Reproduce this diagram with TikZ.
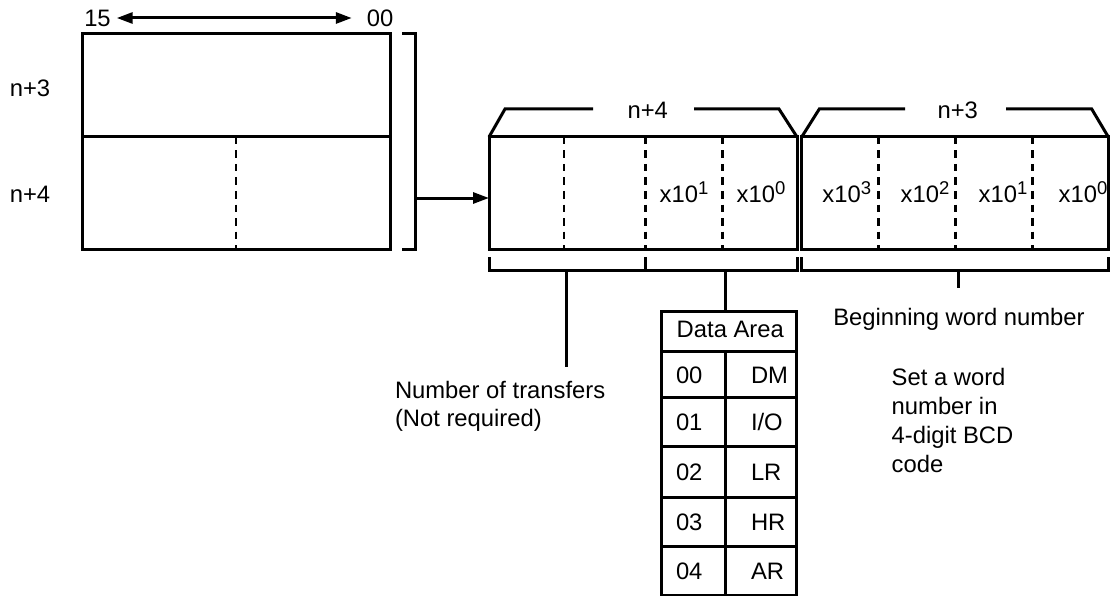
\documentclass[tikz,border=0pt]{standalone}
\usepackage{fontspec}
\setmainfont{Liberation Sans}
\usetikzlibrary{arrows.meta}
\newcommand{\pw}[1]{x10\raisebox{8.3pt}{\fontsize{18.5}{18.5}\selectfont #1}}
\begin{document}
\begin{tikzpicture}[x=1pt,y=-1pt,line width=3pt,
  every node/.style={font=\fontsize{23.8}{28}\selectfont,inner sep=0pt,outer sep=0pt},
  boxn/.style={draw,line width=3pt,minimum width=#1,minimum height=112.5pt},
  dsh/.style={line width=2.8pt,dash pattern=on 7.5pt off 6pt},
  tipr/.style={-{Triangle[length=16pt,width=11pt]}},
  tiplr/.style={{Triangle[length=16pt,width=11pt]}-{Triangle[length=16pt,width=11pt]}},
  cell/.style={anchor=base west},
  lbl/.style={anchor=base}]
\useasboundingbox (0,0) rectangle (1110,596);

% ---- left register
\node[draw,minimum width=308pt,minimum height=215pt] (lbox) at (236,141.5) {};
\draw (lbox.west |- 0,137) -- (lbox.east |- 0,137);
\draw[dsh] (236,137) -- (lbox.south -| 236,0);
\node (r3) at (30,88) {n+3};
\node (r4) at (30,194) {n+4};
\node (b15) at (97.5,18) {15};
\node (b00) at (380,18) {00};
\draw[tiplr,shorten <=6pt,shorten >=15pt] (b15.east) -- (b00.west);

% bracket
\coordinate (bt) at (402,34);
\coordinate (bb) at (402,249);
\draw (bt) -- ++(13,0) -- (415,249) -- (bb);
\coordinate (brk) at (415,198);

% ---- n+4 box
\node[boxn=308pt] (b4) at (643,193.2) {};
\draw[tipr] (brk) -- (brk -| b4.west);
\foreach \x in {564,645.5,722.5} \draw[dsh] (\x,137) -- (\x,249.5);
\draw (b4.north west) -- (505,109) -- (593,109);
\draw (694,109) -- (779,109) -- (b4.north east);
\node (t4) at (647.7,110) {n+4};
\node[lbl] (c41) at (684,203) {\pw{1}};
\node[lbl] (c40) at (761,203) {\pw{0}};

% ---- n+3 box
\node[boxn=306.6pt] (b3) at (955,193.2) {};
\foreach \x in {878.7,955.3,1032.3} \draw[dsh] (\x,137) -- (\x,249.5);
\draw (b3.north west) -- (819.3,109) -- (905,109);
\draw (1006,109) -- (1091.7,109) -- (b3.north east);
\node (t3) at (957.7,110) {n+3};
\node[lbl] (c33) at (846.7,203) {\pw{3}};
\node[lbl] (c32) at (925,203) {\pw{2}};
\node[lbl] (c31) at (1003,203) {\pw{1}};
\node[lbl] (c30) at (1083,203) {\pw{0}};

% ---- bottom brackets
\draw (489,257) -- (489,270) -- (797,270) -- (797,257);
\draw (645,257) -- (645,270);
\draw (801.7,257) -- (801.7,270) -- (1108.3,270) -- (1108.3,257);

% ---- labels
\node[cell] (nt1) at (395,398.5) {Number of transfers};
\node[cell] (nt2) at (395,426.5) {(Not required)};
\draw (566,270) -- (566,367);

\node[cell] (bw) at (833.3,325) {Beginning word number};
\draw (958.3,270) -- (958.3,288);
\node[cell] (s1) at (891.7,385) {Set a word};
\node[cell] (s2) at (891.7,414) {number in};
\node[cell] (s3) at (891.7,443) {4-digit BCD};
\node[cell] (s4) at (891.7,472) {code};

% ---- data area table
\node[draw,minimum width=135.7pt,minimum height=283.3pt] (tab) at (728.85,453.35) {};
\draw (725,270) -- (tab.north -| 725,0);
\foreach \y in {351.7,397.7,446.7,497.3,546} \draw (tab.west |- 0,\y) -- (tab.east |- 0,\y);
\draw (725.7,351.7) -- (tab.south -| 725.7,0);
\node[lbl] (hd) at (730.3,337) {Data Area};
\node[cell] (k0) at (676,383.2) {00};
\node[cell] (v0) at (751,383.2) {DM};
\node[cell] (k1) at (676,430.7) {01};
\node[cell] (v1) at (751,430.7) {I/O};
\node[cell] (k2) at (676,480.5) {02};
\node[cell] (v2) at (751,480.5) {LR};
\node[cell] (k3) at (676,530.2) {03};
\node[cell] (v3) at (751,530.2) {HR};
\node[cell] (k4) at (676,579) {04};
\node[cell] (v4) at (751,579) {AR};
\end{tikzpicture}
\end{document}
